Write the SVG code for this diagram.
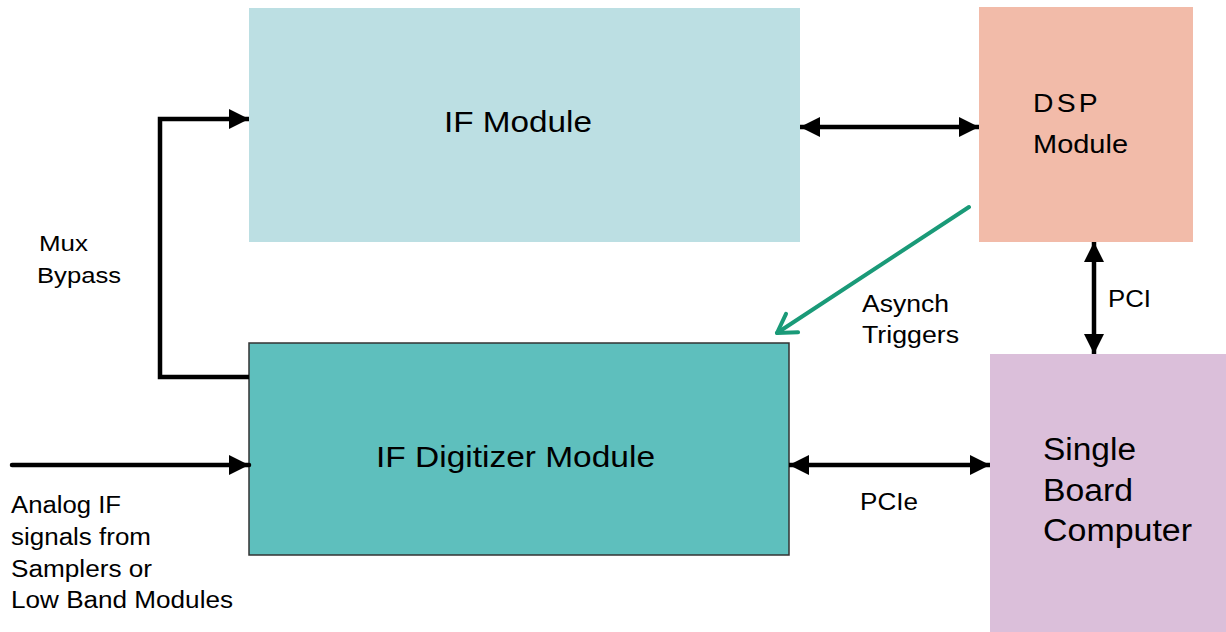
<svg xmlns="http://www.w3.org/2000/svg" width="1226" height="632" viewBox="0 0 1226 632">
<style>
.t{font-family:"Liberation Sans",Arial,sans-serif;fill:#000}
.c{fill:none;stroke:#000;stroke-width:4.5}
</style>
<defs>
<marker id="ah" markerUnits="userSpaceOnUse" markerWidth="20" markerHeight="20" refX="16" refY="8" orient="auto-start-reverse" viewBox="0 0 16 16">
<path d="M0,0 L16,8 L0,16 z" fill="#000"/>
</marker>
<marker id="gh" markerUnits="userSpaceOnUse" markerWidth="30" markerHeight="30" refX="27" refY="15" orient="auto" viewBox="0 0 30 30">
<path d="M9,4 L27,15 L9,26" fill="none" stroke="#1A9A78" stroke-width="4" stroke-linecap="round" stroke-linejoin="round"/>
</marker>
</defs>
<rect width="1226" height="632" fill="#fff"/>
<g id="if-module">
<rect x="249" y="8" width="551" height="234" fill="#BCDFE3"/>
<text class="t" x="444" y="132" font-size="29" textLength="148" lengthAdjust="spacingAndGlyphs">IF Module</text>
</g>
<g id="dsp-module">
<rect x="979" y="7" width="214" height="235" fill="#F2BBA9"/>
<text class="t" x="1033" y="112" font-size="26" letter-spacing="3" textLength="68" lengthAdjust="spacingAndGlyphs">DSP</text>
<text class="t" x="1033" y="153" font-size="25" textLength="95" lengthAdjust="spacingAndGlyphs">Module</text>
</g>
<g id="if-digitizer">
<rect x="249" y="343" width="540" height="212" fill="#5EBFBD" stroke="#333" stroke-width="1.5"/>
<text class="t" x="376" y="467" font-size="29" textLength="279" lengthAdjust="spacingAndGlyphs">IF Digitizer Module</text>
</g>
<g id="sbc">
<rect x="990" y="354" width="236" height="278" fill="#DBBFDA"/>
<text class="t" x="1043" y="460" font-size="31" textLength="93" lengthAdjust="spacingAndGlyphs">Single</text>
<text class="t" x="1043" y="501" font-size="31" textLength="90" lengthAdjust="spacingAndGlyphs">Board</text>
<text class="t" x="1043" y="541" font-size="31" textLength="149" lengthAdjust="spacingAndGlyphs">Computer</text>
</g>
<g id="connectors">
<polyline class="c" points="249,377 160,377 160,119 249,119" marker-end="url(#ah)"/>
<line class="c" x1="800" y1="127" x2="979" y2="127" marker-start="url(#ah)" marker-end="url(#ah)"/>
<line class="c" x1="1094" y1="242" x2="1094" y2="354" marker-start="url(#ah)" marker-end="url(#ah)"/>
<line class="c" x1="789" y1="465" x2="990" y2="465" marker-start="url(#ah)" marker-end="url(#ah)"/>
<line class="c" x1="12" y1="465" x2="249" y2="465" stroke-linecap="round" marker-end="url(#ah)"/>
<line x1="969" y1="207" x2="777" y2="333" stroke="#1A9A78" stroke-width="4" stroke-linecap="round" marker-end="url(#gh)"/>
<text class="t" x="39" y="251" font-size="22" textLength="49" lengthAdjust="spacingAndGlyphs">Mux</text>
<text class="t" x="37" y="283" font-size="22" textLength="84" lengthAdjust="spacingAndGlyphs">Bypass</text>
<text class="t" x="862" y="312" font-size="23" textLength="87" lengthAdjust="spacingAndGlyphs">Asynch</text>
<text class="t" x="862" y="343" font-size="23" textLength="97" lengthAdjust="spacingAndGlyphs">Triggers</text>
<text class="t" x="1108" y="307" font-size="23" textLength="43" lengthAdjust="spacingAndGlyphs">PCI</text>
<text class="t" x="860" y="510" font-size="23" textLength="58" lengthAdjust="spacingAndGlyphs">PCIe</text>
<text class="t" x="11" y="513" font-size="23" textLength="110" lengthAdjust="spacingAndGlyphs">Analog IF</text>
<text class="t" x="11" y="545" font-size="23" textLength="140" lengthAdjust="spacingAndGlyphs">signals from</text>
<text class="t" x="11" y="577" font-size="23" textLength="141" lengthAdjust="spacingAndGlyphs">Samplers or</text>
<text class="t" x="11" y="608" font-size="23" textLength="222" lengthAdjust="spacingAndGlyphs">Low Band Modules</text>
</g>
</svg>
